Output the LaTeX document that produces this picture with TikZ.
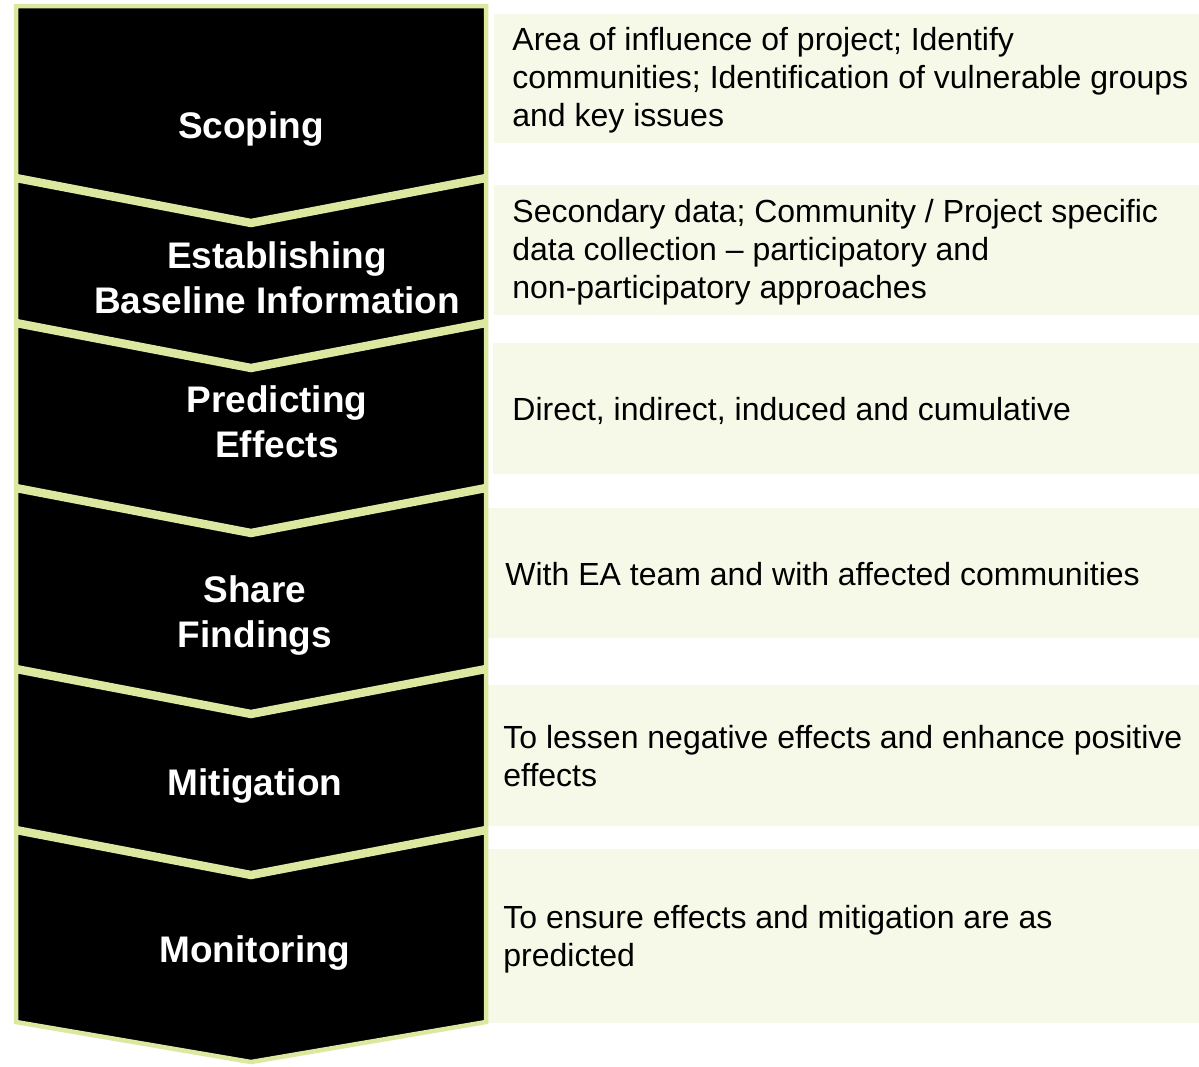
\documentclass[tikz,border=0pt]{standalone}
\usepackage{fontspec}
\setmainfont{Liberation Sans}
\usetikzlibrary{fit}
\definecolor{rim}{RGB}{220,232,160}
\definecolor{notefill}{RGB}{246,249,232}
\begin{document}
\begin{tikzpicture}[x=0.5pt,y=-0.5pt,
  chev/.style={fill=black, draw=rim, line width=2.25pt, line join=miter},
  steplabel/.style={text=white, font=\fontsize{18.5}{22.5}\selectfont\bfseries, inner sep=0pt, anchor=base},
  note/.style={fill=notefill, draw=none, inner sep=0pt},
  notetext/.style={text=black, font=\fontsize{16}{19}\selectfont, inner sep=0pt, anchor=base west}]
\useasboundingbox[fill=white] (0,0) rectangle (1199,1066);

% description panels on the right
\node[note, fit={(494,14) (1199,143)}] (n1) {};
\node[note, fit={(494,185) (1199,315)}] (n2) {};
\node[note, fit={(493,343) (1199,474)}] (n3) {};
\node[note, fit={(485,508) (1199,638)}] (n4) {};
\node[note, fit={(485,685) (1199,826)}] (n5) {};
\node[note, fit={(485,849) (1199,1023)}] (n6) {};

% chevron column
\draw[chev] (16,6) -- (486,6) -- (486,176) -- (251,221) -- (16,176) -- cycle;
\draw[chev] (16,180) -- (251,225) -- (486,180) -- (486,321) -- (251,366) -- (16,321) -- cycle;
\draw[chev] (16,325) -- (251,370) -- (486,325) -- (486,486) -- (251,531) -- (16,486) -- cycle;
\draw[chev] (16,490) -- (251,535) -- (486,490) -- (486,667) -- (251,712) -- (16,667) -- cycle;
\draw[chev] (16,671) -- (251,716) -- (486,671) -- (486,828) -- (251,873) -- (16,828) -- cycle;
\draw[chev] (16,832) -- (251,877) -- (486,832) -- (486,1022) -- (251,1062) -- (16,1022) -- cycle;

% stage names
\node[steplabel] (l1) at (251,138) {Scoping};
\node[steplabel] (l2) at (277,268) {\begin{tabular}[t]{@{}c@{}}Establishing\\Baseline Information\end{tabular}};
\node[steplabel] (l3) at (277,412) {\begin{tabular}[t]{@{}c@{}}Predicting\\Effects\end{tabular}};
\node[steplabel] (l4) at (255,602) {\begin{tabular}[t]{@{}c@{}}Share\\Findings\end{tabular}};
\node[steplabel] (l5) at (255,795) {Mitigation};
\node[steplabel] (l6) at (255,962) {Monitoring};

% descriptions
\node[notetext] (t1) at (512,50) {\begin{tabular}[t]{@{}l@{}}Area of influence of project; Identify\\communities; Identification of vulnerable groups\\and key issues\end{tabular}};
\node[notetext] (t2) at (512,222) {\begin{tabular}[t]{@{}l@{}}Secondary data; Community / Project specific\\data collection – participatory and\\non-participatory approaches\end{tabular}};
\node[notetext] (t3) at (512,420) {Direct, indirect, induced and cumulative};
\node[notetext] (t4) at (505,585) {With EA team and with affected communities};
\node[notetext] (t5) at (503,748) {\begin{tabular}[t]{@{}l@{}}To lessen negative effects and enhance positive\\effects\end{tabular}};
\node[notetext] (t6) at (503,928) {\begin{tabular}[t]{@{}l@{}}To ensure effects and mitigation are as\\predicted\end{tabular}};
\end{tikzpicture}
\end{document}
